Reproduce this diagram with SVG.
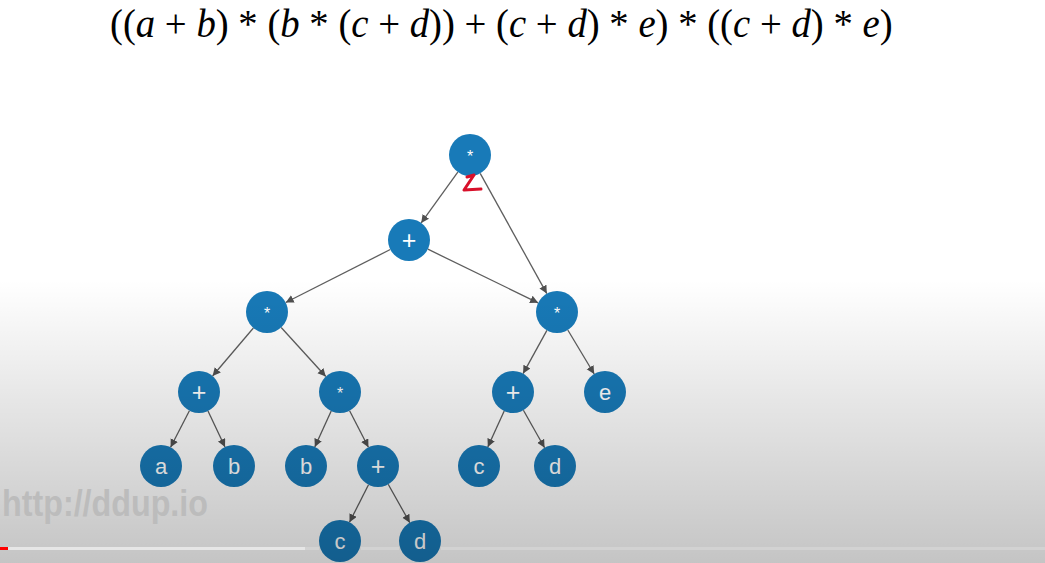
<svg xmlns="http://www.w3.org/2000/svg" width="1045" height="563" viewBox="0 0 1045 563">
<defs>
<style>
.n{fill:#187ab8}
.t{fill:#fff;font-family:"Liberation Sans",Arial,sans-serif;font-size:22px;text-anchor:middle}
.s{font-size:16px}
.p{font-size:25px}
.e{stroke:#5e5e5e;stroke-width:1.3;fill:none;marker-end:url(#ah)}
.f{font-family:"Liberation Serif","Times New Roman",serif;font-size:41px}
.i{font-style:italic}
</style>
<marker id="ah" markerUnits="userSpaceOnUse" markerWidth="10" markerHeight="10" refX="8" refY="4" orient="auto">
<path d="M0,0 L8,4 L0,8 Z" fill="#505050"/>
</marker>
<linearGradient id="shade" x1="0" y1="0" x2="0" y2="1">
<stop offset="0" stop-color="#000" stop-opacity="0"/>
<stop offset="1" stop-color="#000" stop-opacity="0.23"/>
</linearGradient>
</defs>
<rect width="1045" height="563" fill="#fff"/>
<text class="f" transform="translate(110,37) scale(0.945,1)" x="0" y="0">((<tspan class="i">a</tspan> + <tspan class="i">b</tspan>) * (<tspan class="i">b</tspan> * (<tspan class="i">c</tspan> + <tspan class="i">d</tspan>)) + (<tspan class="i">c</tspan> + <tspan class="i">d</tspan>) * <tspan class="i">e</tspan>) * ((<tspan class="i">c</tspan> + <tspan class="i">d</tspan>) * <tspan class="i">e</tspan>)</text>
<g id="connectors">
<line class="e" x1="457.8" y1="172.1" x2="421.2" y2="222.9"/>
<line class="e" x1="480.2" y1="173.4" x2="546.8" y2="293.6"/>
<line class="e" x1="390.3" y1="249.5" x2="285.7" y2="302.5"/>
<line class="e" x1="427.9" y1="249.2" x2="538.1" y2="302.8"/>
<line class="e" x1="253.4" y1="328" x2="212.6" y2="376"/>
<line class="e" x1="281.2" y1="327.5" x2="325.8" y2="376.5"/>
<line class="e" x1="546.9" y1="330.4" x2="523.1" y2="373.6"/>
<line class="e" x1="567.8" y1="330" x2="594.2" y2="374"/>
<line class="e" x1="189.4" y1="410.7" x2="170.6" y2="447.3"/>
<line class="e" x1="208" y1="411" x2="225" y2="447"/>
<line class="e" x1="331.2" y1="411.1" x2="314.8" y2="446.9"/>
<line class="e" x1="349.6" y1="410.7" x2="368.4" y2="447.3"/>
<line class="e" x1="504.2" y1="411.1" x2="487.8" y2="446.9"/>
<line class="e" x1="523.4" y1="410.3" x2="544.6" y2="447.7"/>
<line class="e" x1="368.5" y1="484.7" x2="349.5" y2="522.3"/>
<line class="e" x1="388.2" y1="484.3" x2="409.8" y2="522.7"/>
</g>
<g id="n1"><circle class="n" cx="470" cy="155" r="21"/><text class="t s" x="470" y="162">*</text></g>
<g id="n2"><circle class="n" cx="409" cy="240" r="21"/><text class="t p" x="409" y="249">+</text></g>
<g id="n3"><circle class="n" cx="267" cy="312" r="21"/><text class="t s" x="267" y="319">*</text></g>
<g id="n4"><circle class="n" cx="557" cy="312" r="21"/><text class="t s" x="557" y="319">*</text></g>
<g id="n5"><circle class="n" cx="199" cy="392" r="21"/><text class="t p" x="199" y="401">+</text></g>
<g id="n6"><circle class="n" cx="340" cy="392" r="21"/><text class="t s" x="340" y="399">*</text></g>
<g id="n7"><circle class="n" cx="513" cy="392" r="21"/><text class="t p" x="513" y="401">+</text></g>
<g id="n8"><circle class="n" cx="605" cy="392" r="21"/><text class="t" x="605" y="400">e</text></g>
<g id="n9"><circle class="n" cx="161" cy="466" r="21"/><text class="t" x="161" y="474">a</text></g>
<g id="n10"><circle class="n" cx="234" cy="466" r="21"/><text class="t" x="234" y="474">b</text></g>
<g id="n11"><circle class="n" cx="306" cy="466" r="21"/><text class="t" x="306" y="474">b</text></g>
<g id="n12"><circle class="n" cx="378" cy="466" r="21"/><text class="t p" x="378" y="475">+</text></g>
<g id="n13"><circle class="n" cx="479" cy="466" r="21"/><text class="t" x="479" y="474">c</text></g>
<g id="n14"><circle class="n" cx="555" cy="466" r="21"/><text class="t" x="555" y="474">d</text></g>
<g id="n15"><circle class="n" cx="340" cy="541" r="21"/><text class="t" x="340" y="549">c</text></g>
<g id="n16"><circle class="n" cx="420" cy="541" r="21"/><text class="t" x="420" y="549">d</text></g>
<path d="M467,177 L474,175 L464,190 L481,189" fill="none" stroke="#d8102a" stroke-width="3" stroke-linecap="round" stroke-linejoin="round"/>
<rect x="0" y="280" width="1045" height="283" fill="url(#shade)"/>
<text x="2" y="516" font-family="'Liberation Sans Narrow','Liberation Sans',sans-serif" font-weight="bold" font-size="36" fill="#bcbcbc" textLength="206" lengthAdjust="spacingAndGlyphs">http://ddup.io</text>
<g id="progress">
<rect x="0" y="547" width="319" height="3" fill="#e6e6e6"/>
<rect x="305" y="547" width="14" height="3" fill="#d2d2d2"/>
<rect x="361" y="547" width="38" height="3" fill="#d2d2d2"/>
<rect x="441" y="547" width="604" height="3" fill="#d2d2d2"/>
<rect x="0" y="547" width="8" height="3" fill="#f00"/>
</g>
</svg>
